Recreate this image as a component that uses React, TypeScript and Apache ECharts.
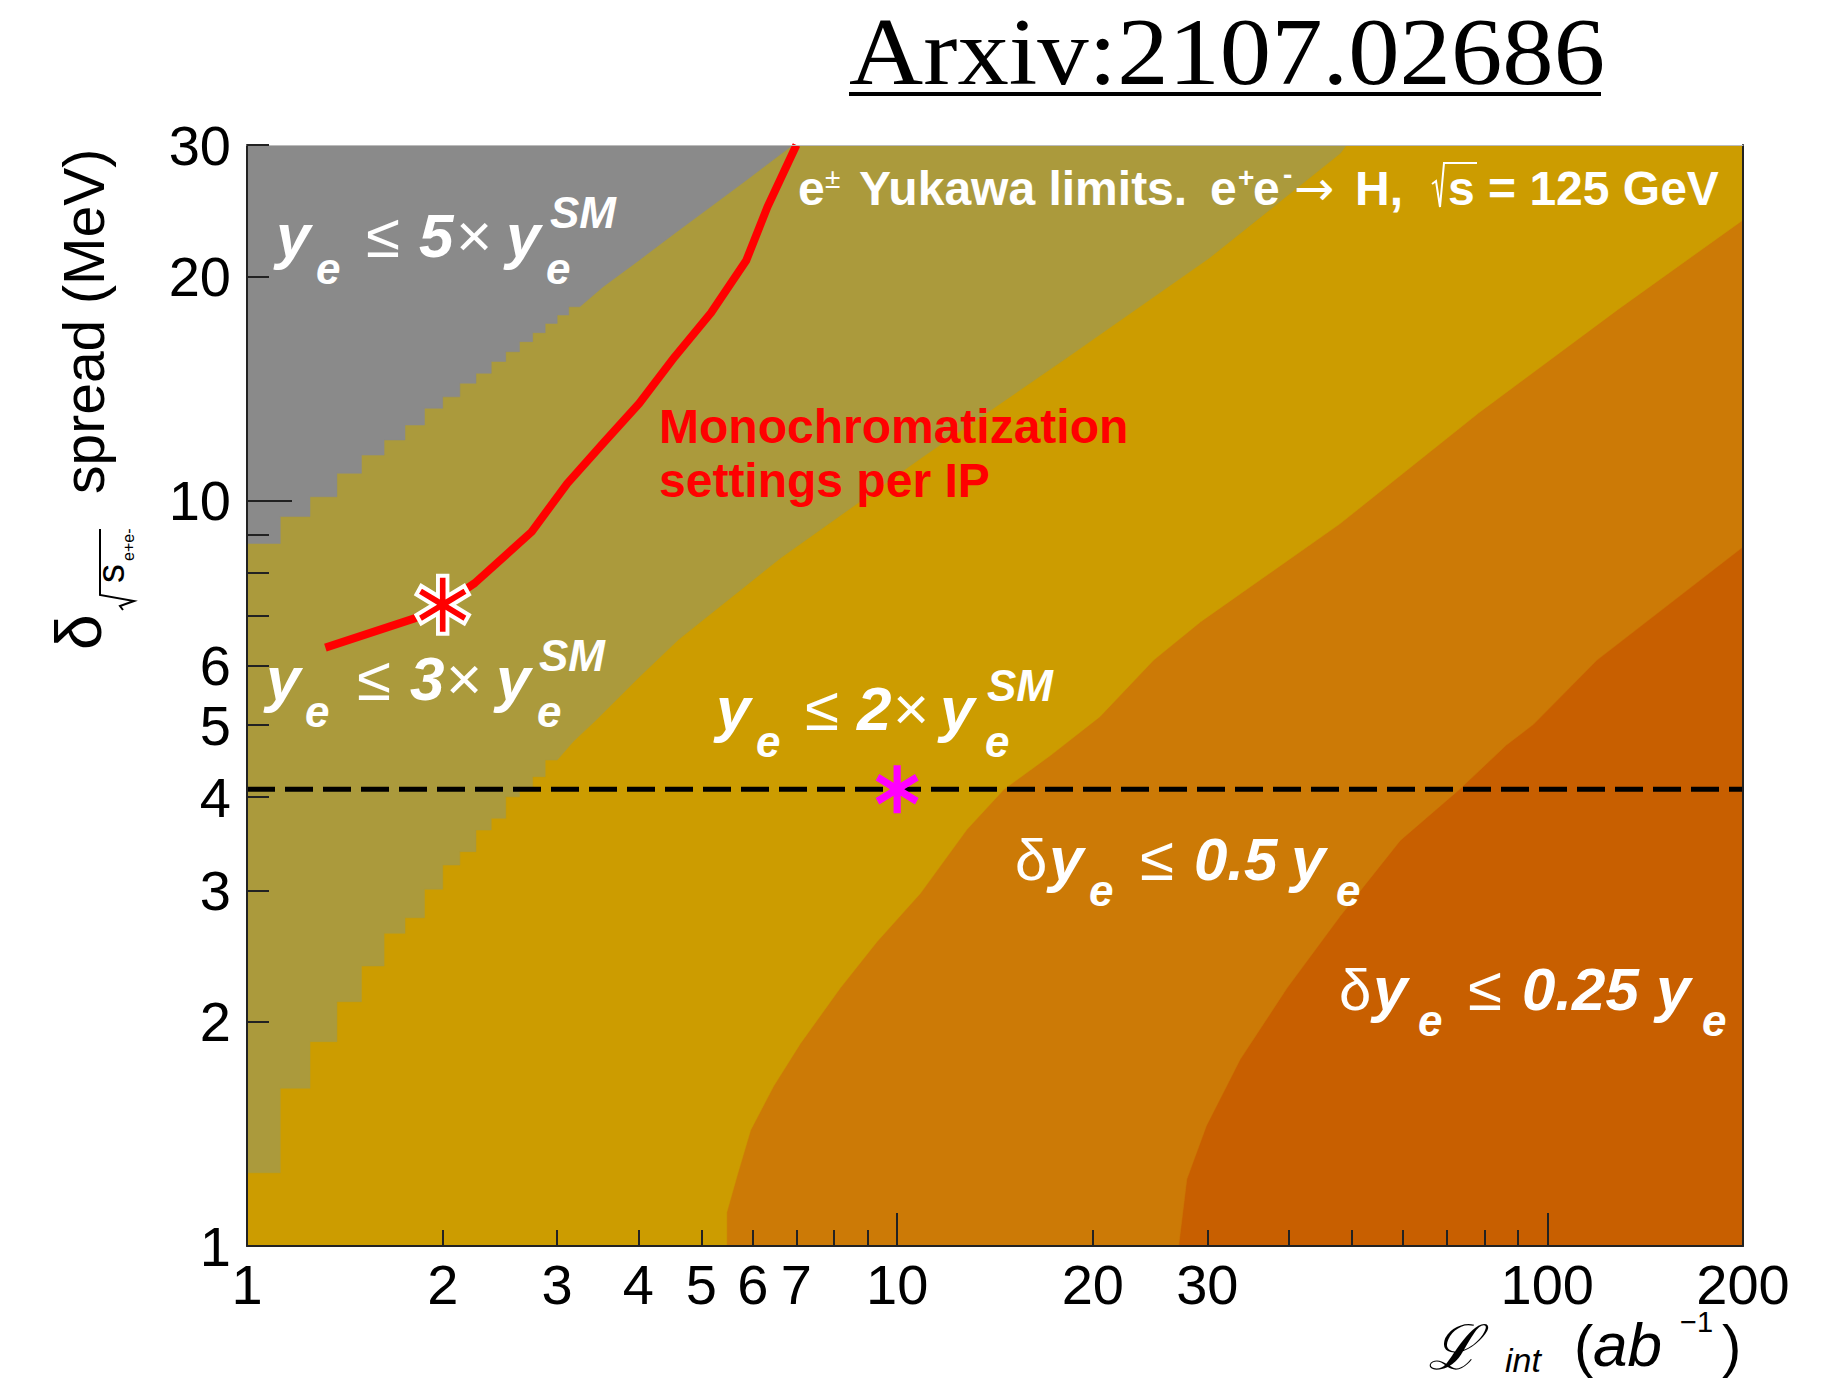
import React, { useEffect, useRef } from 'react';
import * as echarts from 'echarts';

// ---------- data ----------
const X_RANGE = [1, 200];
const Y_RANGE = [1, 30];
const X_TICKS = [1, 2, 3, 4, 5, 6, 7, 8, 9, 10, 20, 30, 40, 50, 60, 70, 80, 90, 100, 200];
const X_LABELS = [1, 2, 3, 4, 5, 6, 7, 10, 20, 30, 100, 200];
const X_LONG_TICKS = [10, 100];
const Y_TICKS = [1, 2, 3, 4, 5, 6, 7, 8, 9, 10, 20, 30];
const Y_LABELS = [1, 2, 3, 4, 5, 6, 10, 20, 30];
const Y_LONG_TICKS = [10];

// contour boundaries (L_int [ab^-1], spread [MeV])
// histogram columns at low L: [right edge of column, boundary value]
const BOUNDARY_5X_COLUMNS = [
  [1.125, 8.76], [1.25, 9.52], [1.375, 10.12], [1.5, 10.88], [1.625, 11.51], [1.75, 12.06],
  [1.875, 12.63], [2.0, 13.3], [2.125, 13.78], [2.25, 14.37], [2.375, 14.82], [2.5, 15.37],
  [2.625, 15.84], [2.75, 16.34], [2.875, 16.8], [3.0, 17.29], [3.125, 17.74], [3.25, 18.2],
];
const BOUNDARY_5X = [[3.53, 19.36], [4.01, 21.02], [4.55, 22.84], [5.17, 24.8], [5.86, 26.9], [6.91, 30]];
const BOUNDARY_3X_COLUMNS = [
  [1.125, 1.254], [1.25, 1.628], [1.375, 1.88], [1.5, 2.127], [1.625, 2.375], [1.75, 2.627],
  [1.875, 2.757], [2.0, 3.01], [2.125, 3.244], [2.25, 3.381], [2.375, 3.615], [2.5, 3.748],
  [2.625, 4.006], [2.75, 4.13], [2.875, 4.263], [3.0, 4.487],
];
const BOUNDARY_3X = [
  [3.175, 4.75], [3.446, 5.08], [4.012, 5.8], [4.61, 6.51], [6.61, 8.37], [10.97, 11.46],
  [18.19, 15.52], [30.17, 21.14], [48.05, 29.24], [49.1, 30],
];
const BOUNDARY_2X = [
  [5.47, 1], [5.47, 1.11], [5.67, 1.24], [5.95, 1.43], [6.46, 1.64], [7.1, 1.87], [8.18, 2.22],
  [9.31, 2.56], [10.85, 2.97], [12.8, 3.62], [14.6, 4.1], [17.2, 4.55], [20.5, 5.13],
  [24.8, 6.11], [29.3, 6.88], [47.9, 9.3], [78.4, 13.11], [128.3, 18.04], [200, 23.8],
];
const BOUNDARY_HALF = [
  [27.1, 1], [27.9, 1.23], [29.9, 1.45], [33.7, 1.78], [39.8, 2.22], [48.0, 2.77], [59.4, 3.5],
  [73.3, 4.1], [86.5, 4.7], [95.2, 5.01], [119.2, 6.11], [200, 8.67],
];
const MONO_SETTINGS = [
  [1.32, 6.35], [1.81, 6.95], [2.0, 7.25], [2.24, 7.75], [2.74, 9.08], [3.11, 10.55],
  [3.53, 11.94], [4.01, 13.5], [4.55, 15.6], [5.17, 17.85], [5.86, 21.0], [6.32, 24.8], [7.0, 30],
];
const RED_STAR = [[2, 7.25]];
const MAGENTA_STAR = [[10, 4.1]];
const SPREAD_LINE = 4.1;

const REGION_COLORS = ['#c85f00', '#cc7a06', '#cc9c00', '#ab9a3c', '#8a8a8a'];

// ---------- helpers ----------
const FONT = 'Liberation Sans';
type Piece = { t: string; x: number; b: number; fs: number; w?: string; s?: string; fam?: string };

function textEl(p: Piece, color: string) {
  return {
    type: 'text',
    x: p.x,
    y: p.b - 0.3465 * p.fs,
    z: 100,
    silent: true,
    style: {
      text: p.t,
      fill: color,
      fontSize: p.fs,
      fontFamily: p.fam || FONT,
      fontWeight: p.w || 'normal',
      fontStyle: p.s || 'normal',
      align: 'left',
      verticalAlign: 'middle',
      textAlign: 'left',
      textVerticalAlign: 'middle',
    },
  };
}

function ratioLabel(x0: number, b: number, n: string, d: number[]) {
  const BI = { w: 'bold', s: 'italic' };
  return [
    { t: 'y', x: x0, b, fs: 62, ...BI },
    { t: 'e', x: x0 + d[0], b: b + 27, fs: 44, ...BI },
    { t: '≤', x: x0 + d[1], b, fs: 62 },
    { t: n, x: x0 + d[2], b, fs: 62, ...BI },
    { t: '×', x: x0 + d[3], b, fs: 62 },
    { t: 'y', x: x0 + d[4], b, fs: 62, ...BI },
    { t: 'e', x: x0 + d[5], b: b + 27, fs: 44, ...BI },
    { t: 'SM', x: x0 + d[6], b: b - 29, fs: 44, ...BI },
  ] as Piece[];
}

function deltaLabel(xs: number[], b: number, n: string) {
  const BI = { w: 'bold', s: 'italic' };
  return [
    { t: 'δ', x: xs[0], b, fs: 58 },
    { t: 'y', x: xs[1], b, fs: 62, ...BI },
    { t: 'e', x: xs[2], b: b + 26, fs: 44, ...BI },
    { t: '≤', x: xs[3], b, fs: 62 },
    { t: n, x: xs[4], b, fs: 60, ...BI },
    { t: 'y', x: xs[5], b, fs: 62, ...BI },
    { t: 'e', x: xs[6], b: b + 26, fs: 44, ...BI },
  ] as Piece[];
}

function columnsToPath(x0: number, cols: number[][]) {
  const pts: number[][] = [];
  let xl = x0;
  for (const [xr, v] of cols) {
    pts.push([xl, v], [xr, v]);
    xl = xr;
  }
  return pts;
}

function asteriskPath(L: number, w: number): string {
  const pts: number[][] = [];
  for (let k = 0; k < 6; k++) {
    const t = ((90 + 60 * k) * Math.PI) / 180;
    const ux = Math.cos(t), uy = Math.sin(t);
    const nx = -uy, ny = ux;
    pts.push([L * ux - w * nx, L * uy - w * ny]);
    pts.push([L * ux + w * nx, L * uy + w * ny]);
    const c = t + Math.PI / 6;
    pts.push([2 * w * Math.cos(c), 2 * w * Math.sin(c)]);
  }
  return 'path://M' + pts.map((p) => `${p[0].toFixed(3)} ${(-p[1]).toFixed(3)}`).join(' L') + ' Z';
}

export default function App() {
  const ref = useRef<HTMLDivElement>(null);

  useEffect(() => {
    if (!ref.current) return;
    const chart = echarts.init(ref.current, null, { renderer: 'svg', width: 1839, height: 1383 });

    const [x0, x1] = X_RANGE;
    const [y0, y1] = Y_RANGE;
    const regions = [
      [[x0, y0], [x1, y0], [x1, y1], [x0, y1]],
      [[x0, y0], ...BOUNDARY_HALF, [x1, y1], [x0, y1]],
      [[x0, y0], ...BOUNDARY_2X, [x1, y1], [x0, y1]],
      [...columnsToPath(x0, BOUNDARY_3X_COLUMNS), ...BOUNDARY_3X, [x0, y1]],
      [...columnsToPath(x0, BOUNDARY_5X_COLUMNS), ...BOUNDARY_5X, [x0, y1]],
    ];

    const tickStyle = { color: '#222', width: 2 };
    const xBase = {
      type: 'log', logBase: 10, min: x0, max: x1, z: 10,
      splitLine: { show: false }, minorTick: { show: false },
    };
    const yBase = {
      type: 'log', logBase: 10, min: y0, max: y1, z: 10,
      splitLine: { show: false }, minorTick: { show: false },
    };
    const labelStyle = {
      fontSize: 56, color: '#000', fontFamily: FONT,
      formatter: (v: number) => String(Math.round(v)),
    };

    const redStar = asteriskPath(29, 5);
    const magStar = asteriskPath(24, 3.8);

    const white = '#ffffff';
    const pieces: Piece[] = [
      ...ratioLabel(276, 257, '5', [40, 90, 143, 180, 230, 270, 274]),
      ...ratioLabel(266, 700, '3', [39, 91, 144, 180, 230, 271, 273]),
      ...ratioLabel(716, 730, '2', [40, 89, 141, 177, 224, 269, 271]),
      ...deltaLabel([1015, 1049, 1089, 1140, 1194, 1291, 1336], 880, '0.5'),
      ...deltaLabel([1339, 1373, 1418, 1468, 1522, 1656, 1702], 1010, '0.25'),
      { t: 'e', x: 798, b: 205, fs: 48, w: 'bold' },
      { t: '±', x: 825, b: 188, fs: 28 },
      { t: 'Yukawa limits.', x: 859, b: 205, fs: 48, w: 'bold' },
      { t: 'e', x: 1210, b: 205, fs: 48, w: 'bold' },
      { t: '+', x: 1238, b: 187, fs: 28, w: 'bold' },
      { t: 'e', x: 1253, b: 205, fs: 48, w: 'bold' },
      { t: '-', x: 1283, b: 184, fs: 28, w: 'bold' },
      { t: '→', x: 1294, b: 205, fs: 48, fam: 'DejaVu Sans' },
      { t: 'H,', x: 1355, b: 205, fs: 48, w: 'bold' },
      { t: 's = 125 GeV', x: 1448, b: 205, fs: 48, w: 'bold' },
    ];
    const redPieces: Piece[] = [
      { t: 'Monochromatization', x: 659, b: 443, fs: 48, w: 'bold' },
      { t: 'settings per IP', x: 659, b: 497, fs: 48, w: 'bold' },
    ];
    const blackPieces: Piece[] = [
      { t: 'ℒ', x: 1428, b: 1369, fs: 62, fam: 'DejaVu Serif', s: 'italic' },
      { t: 'int', x: 1505, b: 1372, fs: 34, s: 'italic' },
      { t: '(', x: 1574, b: 1366, fs: 58 },
      { t: 'ab', x: 1593, b: 1366, fs: 62, s: 'italic' },
      { t: '−1', x: 1680, b: 1332, fs: 29 },
      { t: ')', x: 1722, b: 1366, fs: 58 },
    ];
    const yTitle: Piece[] = [
      { t: 'δ', x: 0, b: 0, fs: 64 },
      { t: 's', x: 67, b: 23, fs: 38 },
      { t: 'e+e-', x: 89, b: 33, fs: 16 },
      { t: 'spread (MeV)', x: 156, b: 3, fs: 57 },
    ];

    const title: any = textEl({ t: 'Arxiv:2107.02686', x: 849, b: 85, fs: 96, fam: 'Liberation Serif' }, '#000');
    title.scaleX = 1.07;

    const graphics: any[] = [
      ...pieces.map((p) => textEl(p, white)),
      ...redPieces.map((p) => textEl(p, '#ff0000')),
      ...blackPieces.map((p) => textEl(p, '#000')),
      title,
      {
        type: 'line', z: 100, silent: true,
        shape: { x1: 849, y1: 94, x2: 1601, y2: 94 },
        style: { stroke: '#000', lineWidth: 4 },
      },
      {
        type: 'polyline', z: 100, silent: true,
        shape: { points: [[1432, 184], [1436, 181], [1440, 207], [1444, 163], [1477, 163]] },
        style: { stroke: white, lineWidth: 2, fill: null },
      },
      {
        type: 'group', x: 101, y: 650, rotation: Math.PI / 2, z: 100,
        children: [
          ...yTitle.map((p) => textEl(p, '#000')),
          {
            type: 'polyline', z: 100, silent: true,
            shape: { points: [[40, 22], [44, 19], [49, 33], [55, -1], [121, -1]] },
            style: { stroke: '#000', lineWidth: 2, fill: null },
          },
        ],
      },
    ];

    chart.setOption({
      animation: false,
      backgroundColor: '#ffffff',
      grid: { left: 247, top: 145, width: 1496, height: 1101, containLabel: false, outerBoundsMode: 'none', show: false },
      xAxis: [
        {
          ...xBase, position: 'bottom',
          axisLine: { show: true, onZero: false, lineStyle: { color: '#222', width: 2 } },
          axisTick: { show: true, inside: true, length: 16, customValues: X_TICKS, lineStyle: tickStyle },
          axisLabel: { show: true, customValues: X_LABELS, margin: 10, ...labelStyle },
        },
        {
          ...xBase, position: 'bottom',
          axisLine: { show: false },
          axisTick: { show: true, inside: true, length: 33, customValues: X_LONG_TICKS, lineStyle: tickStyle },
          axisLabel: { show: false },
        },
        {
          ...xBase, position: 'top',
          axisLine: { show: true, onZero: false, lineStyle: { color: '#bbbbbb', width: 1 } },
          axisTick: { show: false },
          axisLabel: { show: false },
        },
      ],
      yAxis: [
        {
          ...yBase, position: 'left',
          axisLine: { show: true, onZero: false, lineStyle: { color: '#222', width: 2 } },
          axisTick: { show: true, inside: true, length: 22, customValues: Y_TICKS, lineStyle: tickStyle },
          axisLabel: { show: true, customValues: Y_LABELS, margin: 16, ...labelStyle },
        },
        {
          ...yBase, position: 'left',
          axisLine: { show: false },
          axisTick: { show: true, inside: true, length: 45, customValues: Y_LONG_TICKS, lineStyle: tickStyle },
          axisLabel: { show: false },
        },
        {
          ...yBase, position: 'right',
          axisLine: { show: true, onZero: false, lineStyle: { color: '#222', width: 2 } },
          axisTick: { show: false },
          axisLabel: { show: false },
        },
      ],
      series: [
        {
          type: 'custom', name: 'regions', coordinateSystem: 'cartesian2d',
          xAxisIndex: 0, yAxisIndex: 0, clip: true, silent: true, z: 1,
          data: regions.map(() => [x0, y0]),
          renderItem: (params: any, api: any) => {
            const pts = regions[params.dataIndex].map((p) => api.coord(p));
            return {
              type: 'polygon', z2: params.dataIndex,
              shape: { points: pts },
              style: { fill: REGION_COLORS[params.dataIndex], stroke: REGION_COLORS[params.dataIndex], lineWidth: 0.5 },
            };
          },
        },
        {
          type: 'line', name: 'spread', xAxisIndex: 0, yAxisIndex: 0, z: 3, silent: true,
          data: [[x0, SPREAD_LINE], [x1, SPREAD_LINE]], symbol: 'none',
          lineStyle: { color: '#000', width: 5, type: [28, 10] },
        },
        {
          type: 'line', name: 'Monochromatization', xAxisIndex: 0, yAxisIndex: 0, z: 4, silent: true,
          data: MONO_SETTINGS, symbol: 'none',
          lineStyle: { color: '#ff0000', width: 8, join: 'round' },
        },
        {
          type: 'scatter', xAxisIndex: 0, yAxisIndex: 0, z: 5, silent: true,
          data: RED_STAR, symbol: redStar, symbolSize: [55.2, 58], symbolKeepAspect: true,
          itemStyle: { color: '#ff0000', borderColor: '#ffffff', borderWidth: 4, opacity: 1 },
        },
        {
          type: 'scatter', xAxisIndex: 0, yAxisIndex: 0, z: 5, silent: true,
          data: MAGENTA_STAR, symbol: magStar, symbolSize: [45.4, 48], symbolKeepAspect: true,
          itemStyle: { color: '#ff00ff', opacity: 1 },
        },
      ],
      graphic: graphics,
    });

    return () => chart.dispose();
  }, []);

  return (
    <div
      ref={ref}
      style={{ position: 'absolute', left: 0, top: 0, width: 1839, height: 1383, background: '#ffffff' }}
    />
  );
}
